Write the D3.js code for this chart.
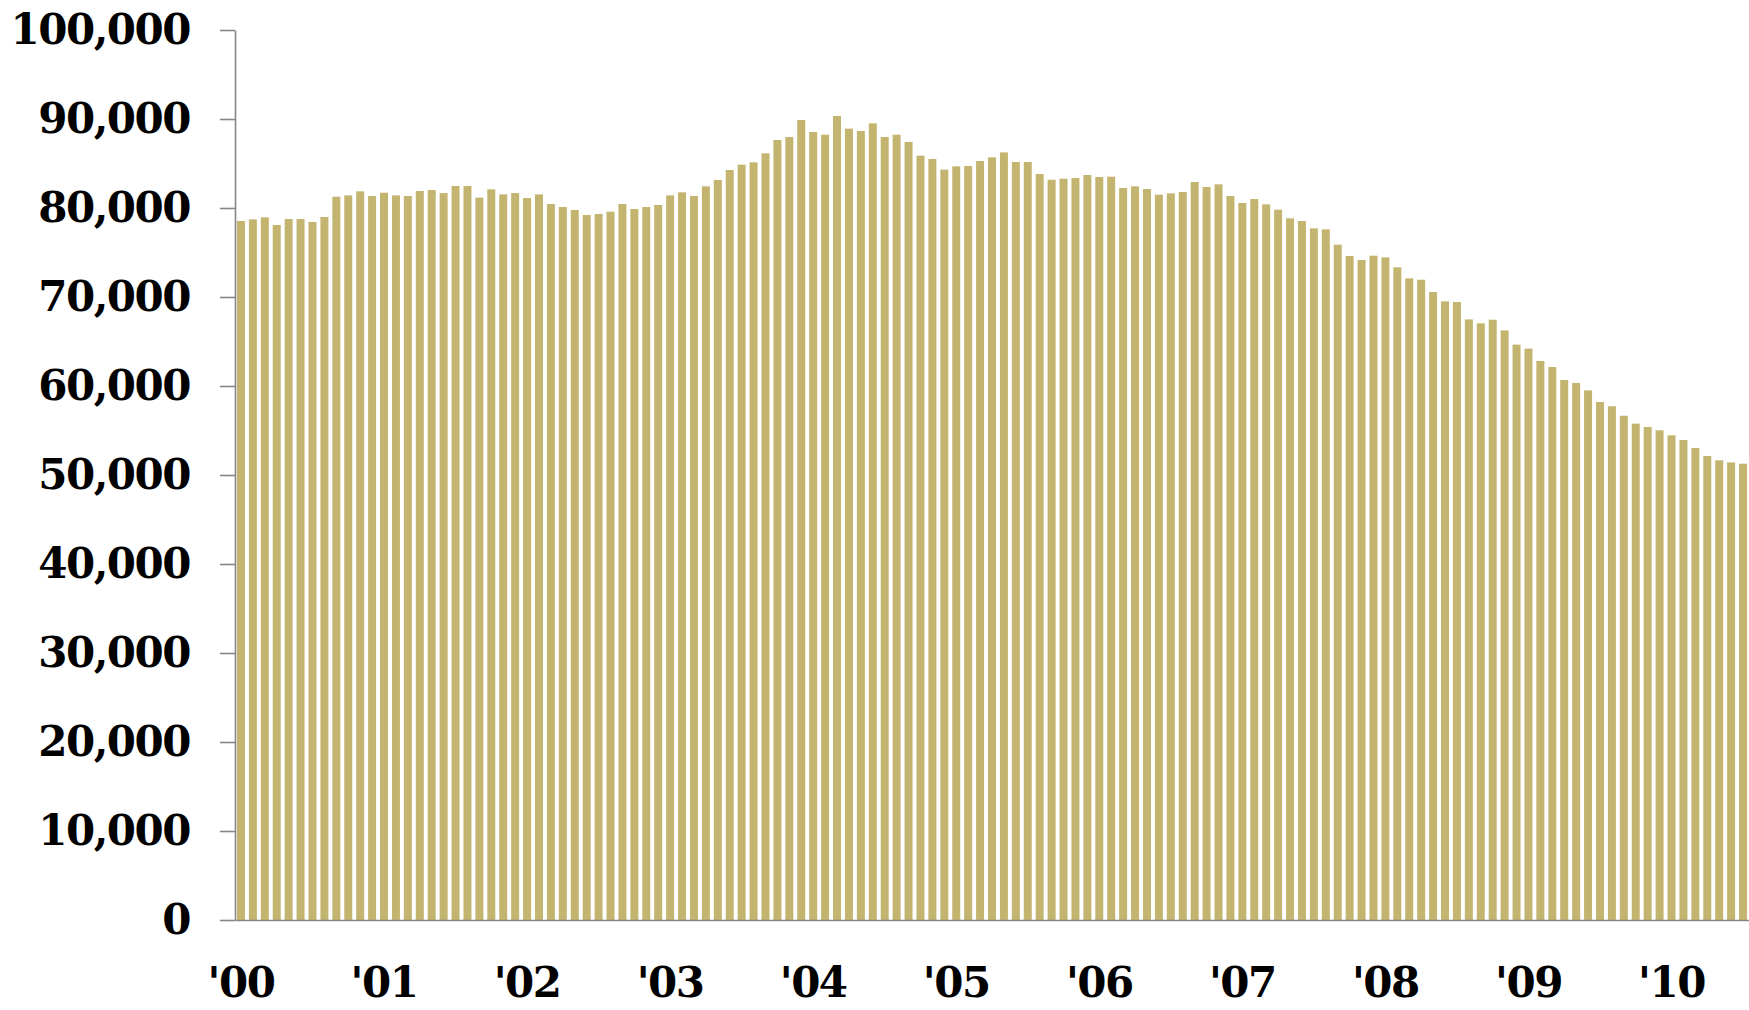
<!DOCTYPE html>
<html>
<head>
<meta charset="utf-8">
<script src="https://cdn.jsdelivr.net/npm/d3@7"></script>
<style>
  body { margin: 0; background: #fff; }
  svg { display: block; }
  .axis text { font-family: "DejaVu Serif", serif; font-weight: bold; font-size: 42px; letter-spacing: -1.5px; fill: #000; }
</style>
</head>
<body>
<div id="chart"></div>
<script>
var width = 1749
var height = 1010

// monthly values, Jan 2000 .. Jul 2010
var years = ["'00", "'01", "'02", "'03", "'04", "'05", "'06", "'07", "'08", "'09", "'10"]
var values2000 = [78540, 78720, 78950, 78090, 78760, 78760, 78430, 78990, 81270, 81420, 81870, 81350]
var values2001 = [81720, 81420, 81350, 81910, 82020, 81680, 82470, 82470, 81160, 82100, 81530, 81680]
var values2002 = [81120, 81530, 80450, 80110, 79780, 79210, 79330, 79590, 80450, 79890, 80110, 80340]
var values2003 = [81420, 81760, 81350, 82430, 83150, 84270, 84870, 85130, 86140, 87640, 87980, 89890]
var values2004 = [88540, 88240, 90340, 88920, 88650, 89510, 87980, 88240, 87420, 85880, 85510, 84310]
var values2005 = [84680, 84720, 85280, 85690, 86250, 85170, 85170, 83820, 83180, 83290, 83370, 83710]
var values2006 = [83480, 83520, 82250, 82430, 82130, 81500, 81640, 81800, 82920, 82360, 82660, 81350]
var values2007 = [80560, 81010, 80410, 79810, 78840, 78540, 77710, 77600, 75880, 74610, 74160, 74640]
var values2008 = [74450, 73330, 72100, 71940, 70560, 69510, 69440, 67480, 67040, 67450, 66250, 64650]
var values2009 = [64200, 62810, 62130, 60670, 60340, 59510, 58200, 57720, 56660, 55770, 55390, 55020]
var values2010 = [54460, 53930, 53030, 52130, 51650, 51420, 51270]
var yTicks = [0, 10000, 20000, 30000, 40000, 50000, 60000, 70000, 80000, 90000, 100000]

var allValues = [values2000, values2001, values2002, values2003, values2004, values2005,
  values2006, values2007, values2008, values2009, values2010]

var data = []
allValues.forEach((vals, yi) => {
  vals.forEach((v, m) => data.push({id: yi * 12 + m, year: yi, month: m, value: v}))
})

var margin = ({top: 30, right: 0, bottom: 90, left: 235})

var svg = d3.select('#chart').append("svg")
  .attr("width", width)
  .attr("height", height)

var x = d3.scaleBand()
  .domain(data.map(d => d.id))
  .range([margin.left, width - margin.right])
  .paddingInner(0.33)
  .paddingOuter(0.165)

var y = d3.scaleLinear()
  .domain([0, 100000])
  .range([height - margin.bottom, margin.top])

svg.append("g")
  .selectAll("rect")
  .data(data)
  .join("rect")
    .attr("x", d => x(d.id))
    .attr("y", d => y(d.value))
    .attr("width", x.bandwidth())
    .attr("height", d => y(0) - y(d.value))
    .attr("fill", "#c3b46f")

// y axis
var gy = svg.append("g")
  .attr("class", "axis")
  .attr("transform", `translate(${margin.left},0)`)
  .call(d3.axisLeft(y).tickValues(yTicks).tickFormat(d3.format(",")).tickSize(15).tickSizeOuter(0).tickPadding(30))
gy.selectAll("path, line").attr("stroke", "#868686").attr("stroke-width", 1.6)

// x axis, labels on january bars
var gx = svg.append("g")
  .attr("class", "axis")
  .attr("transform", `translate(0,${y(0)})`)
  .call(d3.axisBottom(x).tickValues(data.filter(d => d.month == 0).map(d => d.id))
    .tickFormat(id => years[Math.floor(id / 12)]).tickSize(0).tickSizeOuter(0))
gx.select(".domain").attr("stroke", "#868686").attr("stroke-width", 1.6)
gx.selectAll("text").attr("y", 77).attr("dy", 0)
</script>
</body>
</html>
